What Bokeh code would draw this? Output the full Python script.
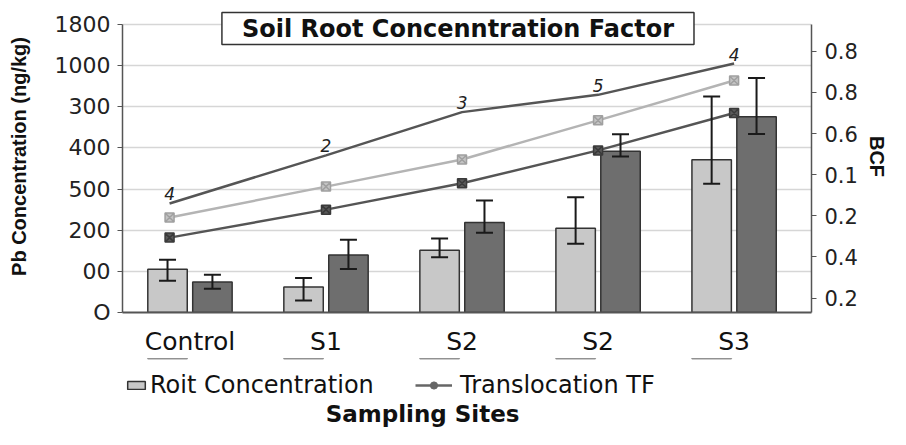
from bokeh.plotting import figure
from bokeh.layouts import column
from bokeh.models import (Range1d, LinearAxis, FixedTicker, Whisker, TeeHead,
                          ColumnDataSource, Legend, LegendItem, Label)
from bokeh.core.properties import value
from bokeh.embed import file_html
from bokeh.resources import INLINE

# ---------------- data ----------------
sites = ["Control", "S1", "S2", "S2", "S3"]
root_conc = [105, 62, 151, 205, 371]
root_low = [77, 29, 134, 167, 313]
root_high = [128, 84, 180, 280, 525]
shoot_conc = [74, 140, 219, 392, 476]
shoot_low = [58, 106, 194, 379, 434]
shoot_high = [92, 177, 272, 433, 570]

bcf_top = [2.65, 3.82, 4.87, 5.29, 6.05]
bcf_top_labels = ["4", "2", "3", "5", "4"]
tf_light = [2.31, 3.06, 3.72, 4.67, 5.64]
tf_dark = [1.82, 2.50, 3.14, 3.94, 4.85]
line_x_shift = [-0.15, 0.0, 0.0, 0.0, 0.0]

left_ticks = [0, 100, 200, 300, 400, 500, 600, 700]
left_tick_labels = ["O", "00", "200", "500", "400", "300", "1000", "1800"]
right_ticks = [0.35, 1.35, 2.35, 3.35, 4.35, 5.35, 6.35]
right_tick_labels = ["0.2", "0.4", "0.2", "0.1", "0.6", "0.8", "0.8"]

# ---------------- geometry helpers ----------------
idx = list(range(len(sites)))
bar_off = 0.165
bar_w = 0.29
light_x = [i - bar_off for i in idx]
dark_x = [i + bar_off for i in idx]
line_x = [i + s for i, s in zip(idx, line_x_shift)]

FONT = "DejaVu Sans"
BOLDF = "Liberation Sans"

Y_END = 758.33   # head-room above the 1800 line for the title box
x_range = Range1d(-0.496, 4.569)

# ---------------- main chart ----------------
p = figure(width=890, height=358, x_range=x_range, y_range=Range1d(0, Y_END),
           output_backend="svg", toolbar_location=None,
           min_border_left=122, min_border_right=74,
           min_border_top=0, min_border_bottom=46)
p.outline_line_color = None
p.background_fill_color = "white"
p.extra_y_ranges = {"bcf": Range1d(0, Y_END / 100)}

p.xgrid.visible = False
p.ygrid.grid_line_color = "#d6d6d6"
p.ygrid.grid_line_width = 1.5

# left axis
p.yaxis.ticker = FixedTicker(ticks=left_ticks)
p.yaxis.bounds = (left_ticks[0], left_ticks[-1])
p.yaxis.major_label_overrides = {t: l for t, l in zip(left_ticks, left_tick_labels)}
p.yaxis.major_label_text_font = FONT
p.yaxis.major_label_text_font_size = "22px"
p.yaxis.major_label_text_color = "#222222"
p.yaxis.major_tick_out = 5
p.yaxis.major_tick_in = 0
p.yaxis.major_label_standoff = 7
p.yaxis.axis_line_color = "#555555"
p.yaxis.axis_line_width = 1.5
p.yaxis.major_tick_line_color = "#555555"
p.yaxis.axis_label = "Pb Concentration (ng/kg)"
p.yaxis.axis_label_text_font = BOLDF
p.yaxis.axis_label_text_font_style = "bold"
p.yaxis.axis_label_text_font_size = "20px"
p.yaxis.axis_label_text_color = "#111111"
p.yaxis.axis_label_standoff = 22

# bottom axis (site names)
p.xaxis.ticker = FixedTicker(ticks=idx)
p.xaxis.major_label_overrides = {i: s for i, s in zip(idx, sites)}
p.xaxis.major_label_text_font = FONT
p.xaxis.major_label_text_font_size = "25px"
p.xaxis.major_label_text_color = "#111111"
p.xaxis.major_tick_out = 0
p.xaxis.major_tick_in = 0
p.xaxis.major_label_standoff = 14
p.xaxis.axis_line_color = "#555555"
p.xaxis.axis_line_width = 2

# right axis
raxis = LinearAxis(y_range_name="bcf", ticker=FixedTicker(ticks=right_ticks),
                   bounds=(0, left_ticks[-1] / 100))
raxis.major_label_overrides = {t: l for t, l in zip(right_ticks, right_tick_labels)}
raxis.major_label_text_font = FONT
raxis.major_label_text_font_size = "21px"
raxis.major_label_text_color = "#222222"
raxis.major_tick_out = 5
raxis.major_tick_in = 0
raxis.major_label_standoff = 8
raxis.axis_line_color = "#555555"
raxis.axis_line_width = 1.5
raxis.major_tick_line_color = "#555555"
raxis.axis_label = "BCF"
raxis.axis_label_text_font = BOLDF
raxis.axis_label_text_font_style = "bold"
raxis.axis_label_text_font_size = "20px"
raxis.axis_label_text_color = "#111111"
raxis.axis_label_standoff = 5
p.add_layout(raxis, "right")

# bars
src_light = ColumnDataSource(dict(x=light_x, top=root_conc, low=root_low, high=root_high))
src_dark = ColumnDataSource(dict(x=dark_x, top=shoot_conc, low=shoot_low, high=shoot_high))

p.vbar(x="x", top="top", bottom=0, width=bar_w, source=src_light,
       fill_color="#c8c8c8", line_color="#333333", line_width=1.5)
p.vbar(x="x", top="top", bottom=0, width=bar_w, source=src_dark,
       fill_color="#6e6e6e", line_color="#333333", line_width=1.5)

for src in (src_light, src_dark):
    w = Whisker(source=src, base="x", lower="low", upper="high", dimension="height",
                level="annotation", line_color="#1a1a1a", line_width=2,
                upper_head=TeeHead(size=17, line_color="#1a1a1a", line_width=2),
                lower_head=TeeHead(size=17, line_color="#1a1a1a", line_width=2))
    p.add_layout(w)

# lines
p.line(x=line_x, y=bcf_top, y_range_name="bcf", line_color="#555555", line_width=2.5)
p.text(x=line_x, y=bcf_top, text=bcf_top_labels, y_range_name="bcf",
       text_font=value(FONT), text_font_style="italic", text_font_size="17px",
       text_align="center", text_baseline="bottom", y_offset=-3, text_color="#222222")

p.line(x=line_x, y=tf_light, y_range_name="bcf", line_color="#b4b4b4", line_width=2.5)
p.scatter(x=line_x, y=tf_light, y_range_name="bcf", marker="square_x", size=9,
          fill_color="#c4c4c4", line_color="#a0a0a0", line_width=1.5)

p.line(x=line_x, y=tf_dark, y_range_name="bcf", line_color="#555555", line_width=2.5)
p.scatter(x=line_x, y=tf_dark, y_range_name="bcf", marker="square_x", size=9,
          fill_color="#5a5a5a", line_color="#3a3a3a", line_width=1.5)

# title box
p.add_layout(Label(x=1.97, y=690, text="Soil Root Concenntration Factor",
                   text_align="center", text_baseline="middle",
                   text_font=FONT, text_font_style="bold", text_font_size="24px",
                   text_color="#111111",
                   background_fill_color="white", border_line_color="#333333",
                   border_line_width=1.5,
                   padding=dict(left=20, right=20, top=2, bottom=2)))

# ---------------- legend strip + x title ----------------
q = figure(width=890, height=71, x_range=x_range, y_range=Range1d(-1075, -1004),
           x_axis_location=None, y_axis_location=None,
           output_backend="svg", toolbar_location=None,
           min_border_left=122, min_border_right=74,
           min_border_top=0, min_border_bottom=0)
q.outline_line_color = None
q.xgrid.visible = False
q.ygrid.visible = False

# legend renderers (same data, lying far outside this strip's visible range)
q_bar = q.vbar(x="x", top="top", bottom=0, width=bar_w, source=src_light,
               fill_color="#c8c8c8", line_color="#333333", line_width=1.5)
q_line = q.line(x=line_x, y=tf_dark, line_color="#666666", line_width=2.5)
q_dot = q.scatter(x=line_x, y=tf_dark, marker="circle", size=6,
                  fill_color="#666666", line_color="#666666")

leg_common = dict(orientation="horizontal", padding=0, margin=0,
                  border_line_color=None, background_fill_alpha=0,
                  label_text_font=FONT, label_text_font_size="24px",
                  label_text_color="#111111")
q.add_layout(Legend(items=[LegendItem(label="Roit Concentration", renderers=[q_bar])],
                    location=(3, 30), glyph_width=22, glyph_height=10, label_standoff=3,
                    **leg_common))
q.add_layout(Legend(items=[LegendItem(label="Translocation TF", renderers=[q_line, q_dot])],
                    location=(293, 30), glyph_width=37, glyph_height=18, label_standoff=8,
                    **leg_common))

q.add_layout(Label(x=1.71, y=-1059, text="Sampling Sites", text_align="center",
                   text_baseline="middle", text_font=FONT, text_font_style="bold",
                   text_font_size="23px", text_color="#111111"))

open("out.html", "w").write(file_html(column(p, q), INLINE))
